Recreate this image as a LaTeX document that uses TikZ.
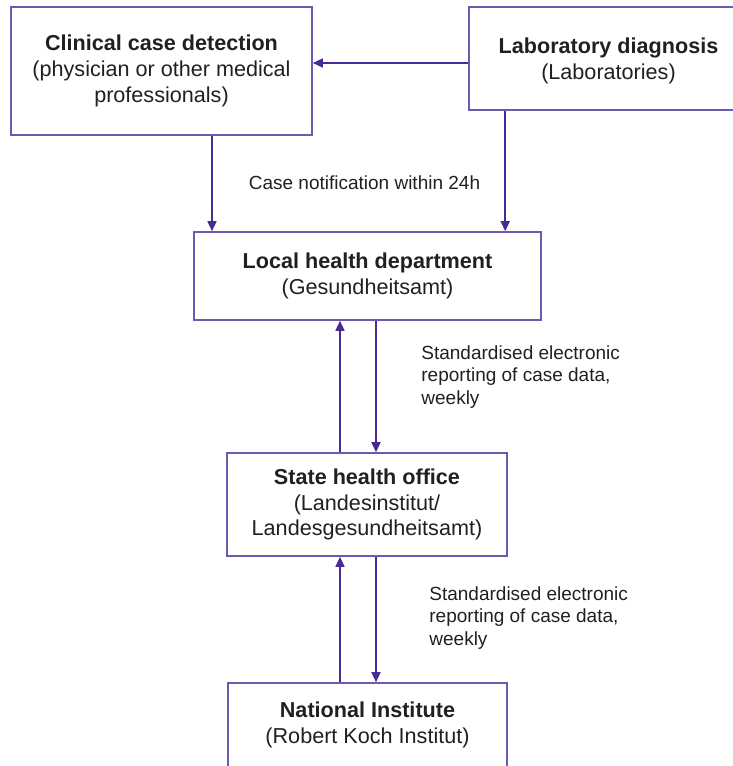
\documentclass[tikz,border=0pt]{standalone}
\usepackage{fontspec}
\setmainfont{Liberation Sans}
\usetikzlibrary{positioning, calc, arrows.meta}
\definecolor{boxline}{RGB}{112,88,176}
\definecolor{arrline}{RGB}{72,42,150}
\definecolor{ink}{RGB}{35,31,32}

\begin{document}
\begin{tikzpicture}[x=0.5pt, y=-0.5pt,
    box/.style={draw=boxline, line width=0.8pt, rectangle, inner sep=0pt, align=center, text=ink, font=\fontsize{10.8}{12.9}\selectfont},
    arr/.style={draw=arrline, line width=0.75pt, -{Triangle[length=5pt, width=4.5pt]}},
    note/.style={inner sep=0pt, align=left, text=ink, font=\fontsize{9.5}{11.25}\selectfont}]
            \useasboundingbox (0,0) rectangle (733,766);
            \clip (0,0) rectangle (733,766);
            \node[box, minimum width=150.5pt, minimum height=64pt] (clin) at (161.5,71) {\textbf{Clinical case detection}\\(physician or other medical\\professionals)};
            \node[box, minimum width=139.5pt, minimum height=51.5pt, text depth=-3pt] (lab) at (608.5,58.5) {\textbf{Laboratory diagnosis}\\(Laboratories)};
            \node[box, minimum width=173.5pt, minimum height=44pt] (local) at (367.5,276) {\textbf{Local health department}\\(Gesundheitsamt)};
            \node[box, minimum width=140pt, minimum height=51.5pt] (state) at (367,504.5) {\textbf{State health office}\\(Landesinstitut/\\Landesgesundheitsamt)};
            \node[box, minimum width=139.5pt, minimum height=42pt] (rki) at (367.5,725) {\textbf{National Institute}\\(Robert Koch Institut)};
            \draw[arr] ([yshift=-2.25pt]lab.west) coordinate (h) -- (h -| clin.east);
            \draw[arr] ([xshift=25.25pt]clin.south) coordinate (c) -- (c |- local.north);
            \draw[arr] ([xshift=18.5pt]lab.south west) coordinate (l) -- (l |- local.north);
            \node[note] (notify) at (364.5,183) {Case notification within 24h};
            \draw[arr] ([xshift=4.25pt]local.south) coordinate (d1) -- (d1 |- state.north);
            \draw[arr] ([xshift=-13.5pt]state.north) coordinate (u1) -- (u1 |- local.south);
            \node[note, anchor=west] (rep1) at (421,377) {Standardised electronic\\reporting of case data,\\weekly};
            \draw[arr] ([xshift=4.5pt]state.south) coordinate (d2) -- (d2 |- rki.north);
            \draw[arr] ([xshift=-13.75pt]rki.north) coordinate (u2) -- (u2 |- state.south);
            \node[note, anchor=west] (rep2) at (429,618) {Standardised electronic\\reporting of case data,\\weekly};
        \end{tikzpicture}
\end{document}
